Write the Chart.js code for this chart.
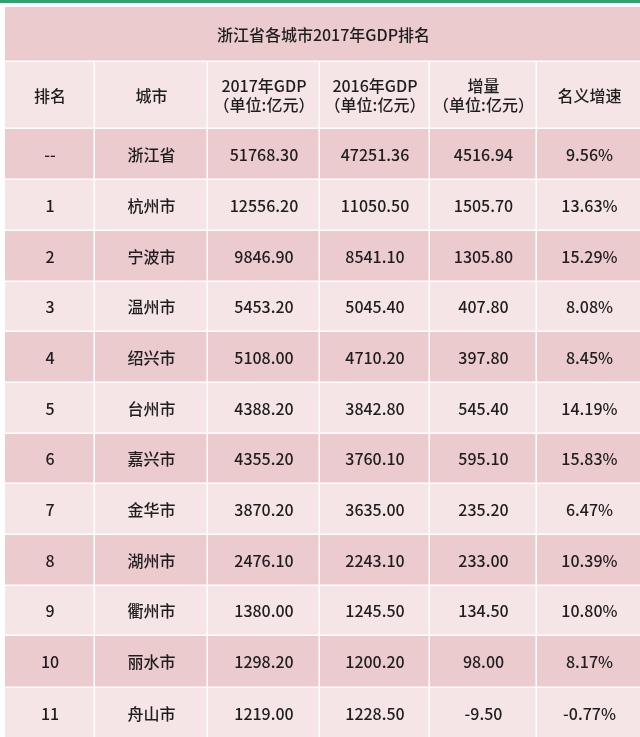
<!DOCTYPE html>
<html lang="zh">
<head>
<meta charset="utf-8">
<title>浙江省各城市2017年GDP排名</title>
<script src="https://cdn.jsdelivr.net/npm/chart.js"></script>
<style>
  html, body { margin: 0; padding: 0; background: #fff; }
  #wrap { width: 640px; height: 737px; position: relative; }
</style>
</head>
<body>
<div id="wrap"><canvas id="tbl"></canvas></div>
<script>
// 表のデータ
const title = '浙江省各城市2017年GDP排名';
const headers = ['排名', '城市', '2017年GDP\n（单位:亿元）', '2016年GDP\n（单位:亿元）', '增量\n（单位:亿元）', '名义增速'];
const ranks = ['--', '1', '2', '3', '4', '5', '6', '7', '8', '9', '10', '11'];
const cities = ['浙江省', '杭州市', '宁波市', '温州市', '绍兴市', '台州市', '嘉兴市', '金华市', '湖州市', '衢州市', '丽水市', '舟山市'];
const gdp2017 = ['51768.30', '12556.20', '9846.90', '5453.20', '5108.00', '4388.20', '4355.20', '3870.20', '2476.10', '1380.00', '1298.20', '1219.00'];
const gdp2016 = ['47251.36', '11050.50', '8541.10', '5045.40', '4710.20', '3842.80', '3760.10', '3635.00', '2243.10', '1245.50', '1200.20', '1228.50'];
const growth = ['4516.94', '1505.70', '1305.80', '407.80', '397.80', '545.40', '595.10', '235.20', '233.00', '134.50', '98.00', '-9.50'];
const rate = ['9.56%', '13.63%', '15.29%', '8.08%', '8.45%', '14.19%', '15.83%', '6.47%', '10.39%', '10.80%', '8.17%', '-0.77%'];

// 列・行の境界（軸の値）
const colEdges = [5, 95, 208, 320, 430, 537, 642];
const rowEdges = [7, 62, 129, 180, 231, 282, 332, 383, 434, 484, 535, 586, 636, 688, 739];

const DARK = '#ebcbcd', LIGHT = '#f5e5e6';
const FONT = '"Noto Sans CJK SC", "Noto Sans", sans-serif';

const tablePlugin = {
  id: 'table',
  beforeDatasetsDraw(chart) {
    const { ctx, scales: { x, y } } = chart;
    const cols = [ranks, cities, gdp2017, gdp2016, growth, rate];
    ctx.save();
    // 上部の緑線
    ctx.fillStyle = '#2aa56f';
    ctx.fillRect(x.getPixelForValue(0), y.getPixelForValue(0), x.getPixelForValue(640) - x.getPixelForValue(0), 3);

    const cell = (x0, x1, y0, y1, color, text) => {
      const px0 = x.getPixelForValue(x0), px1 = x.getPixelForValue(x1);
      const py0 = y.getPixelForValue(y0), py1 = y.getPixelForValue(y1);
      ctx.fillStyle = color;
      ctx.fillRect(px0, py0, px1 - px0 - 1.5, py1 - py0 - 1.5);
      ctx.fillStyle = '#1e1e1e';
      ctx.font = '500 16px ' + FONT;
      ctx.textAlign = 'center';
      ctx.textBaseline = 'middle';
      const lines = text.split('\n');
      const cx = (px0 + px1) / 2, cy = (py0 + py1) / 2;
      lines.forEach((l, i) => ctx.fillText(l, cx, cy + (i - (lines.length - 1) / 2) * 19));
    };

    cell(colEdges[0], colEdges[6], rowEdges[0], rowEdges[1], DARK, title);
    headers.forEach((h, c) => cell(colEdges[c], colEdges[c + 1], rowEdges[1], rowEdges[2], LIGHT, h));
    for (let r = 0; r < ranks.length; r++) {
      const color = r % 2 === 0 ? DARK : LIGHT;
      cols.forEach((col, c) => cell(colEdges[c], colEdges[c + 1], rowEdges[r + 2], rowEdges[r + 3], color, col[r]));
    }
    ctx.restore();
  }
};

new Chart(document.getElementById('tbl'), {
  type: 'scatter',
  data: { datasets: [{ data: [] }] },
  options: {
    responsive: true,
    maintainAspectRatio: false,
    animation: false,
    layout: { padding: 0 },
    plugins: { legend: { display: false }, tooltip: { enabled: false } },
    scales: {
      x: { type: 'linear', min: 0, max: 640, display: false },
      y: { type: 'linear', min: 0, max: 737, reverse: true, display: false }
    }
  },
  plugins: [tablePlugin]
});
</script>
</body>
</html>
